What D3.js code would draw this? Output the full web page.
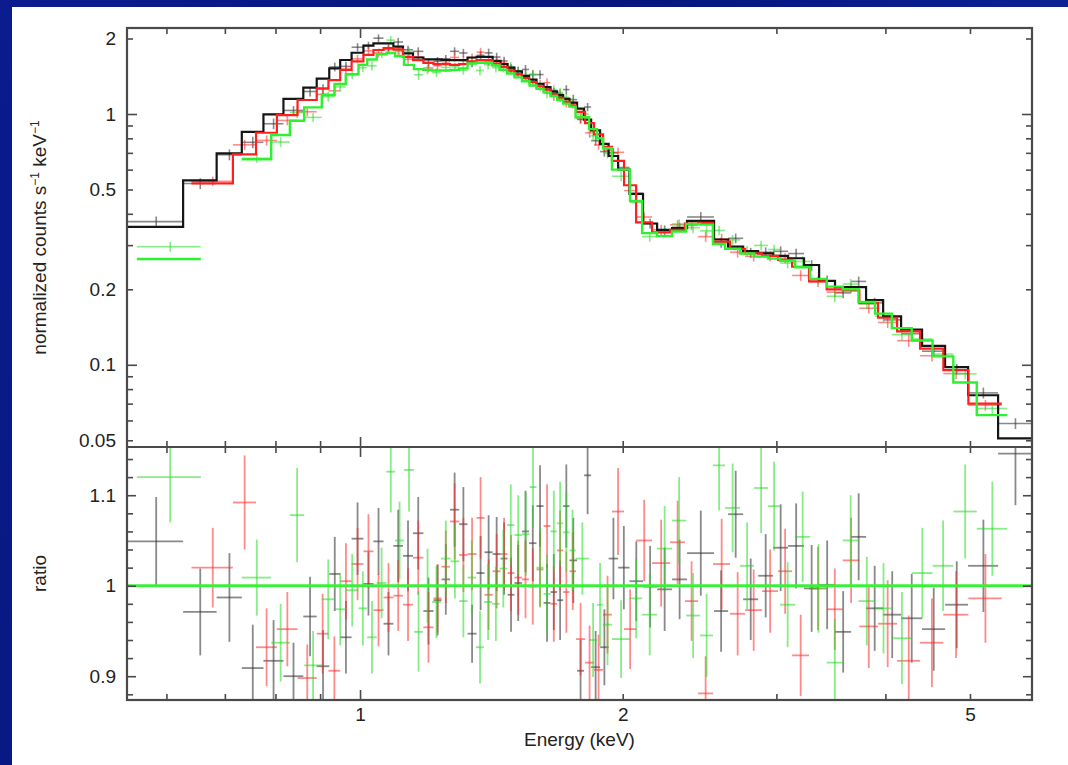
<!DOCTYPE html>
<html><head><meta charset="utf-8">
<script src="https://cdn.jsdelivr.net/npm/d3@7"></script>
<style>html,body{margin:0;padding:0;background:#fff;}svg{display:block}</style>
</head><body>
<svg id="c" width="1068" height="765"></svg>
<script>
// ---------------- DATA (energies in keV) ----------------
const blackEdges = [0.541,0.627,0.685,0.732,0.775,0.817,0.861,0.892,0.922,0.949,0.978,1.009,1.036,1.064,1.092,1.120,1.150,1.182,1.214,1.240,1.268,1.299,1.328,1.360,1.389,1.419,1.449,1.476,1.503,1.533,1.562,1.593,1.623,1.653,1.682,1.709,1.738,1.773,1.806,1.840,1.884,1.927,1.976,2.036,2.110,2.190,2.278,2.370,2.545,2.641,2.748,2.859,2.974,3.094,3.227,3.358,3.502,3.654,3.801,3.976,4.169,4.406,4.682,4.975,5.385,5.890];
const blackModel = [0.355,0.544,0.697,0.848,0.997,1.148,1.273,1.383,1.521,1.642,1.755,1.872,1.913,1.913,1.855,1.745,1.68,1.65,1.65,1.645,1.64,1.64,1.68,1.69,1.69,1.63,1.58,1.53,1.48,1.42,1.37,1.32,1.28,1.23,1.19,1.15,1.11,1.05,0.95,0.86,0.76,0.68,0.60,0.48,0.366,0.345,0.351,0.375,0.316,0.296,0.284,0.278,0.272,0.266,0.250,0.216,0.204,0.204,0.181,0.156,0.138,0.119,0.098,0.0756,0.0509];
const blackRatio = [1.049,0.971,0.987,0.909,0.917,0.900,0.966,0.911,1.013,0.943,1.052,1.002,1.049,0.958,1.044,1.033,1.058,0.972,0.984,1.007,1.084,1.068,0.947,1.014,1.037,1.035,1.030,0.990,1.003,1.060,1.047,1.088,0.981,0.993,0.984,1.088,1.028,0.906,1.122,0.910,0.932,1.030,1.020,1.005,0.999,0.996,1.007,1.036,0.972,1.079,0.985,1.011,1.042,1.044,0.997,1.001,0.949,1.054,0.975,0.968,0.964,0.952,0.979,1.022,1.146];
const blackErr = [0.049,0.048,0.049,0.048,0.045,0.037,0.044,0.040,0.041,0.040,0.040,0.035,0.037,0.035,0.040,0.039,0.040,0.037,0.039,0.039,0.041,0.041,0.032,0.041,0.041,0.041,0.040,0.041,0.042,0.045,0.042,0.045,0.043,0.042,0.044,0.046,0.047,0.034,0.043,0.040,0.042,0.045,0.046,0.044,0.045,0.046,0.044,0.047,0.045,0.048,0.045,0.046,0.048,0.047,0.048,0.049,0.045,0.048,0.047,0.048,0.049,0.046,0.048,0.051,0.057];

const redEdges = [0.641,0.715,0.760,0.803,0.848,0.892,0.920,0.949,0.978,1.009,1.036,1.064,1.092,1.120,1.150,1.182,1.214,1.240,1.268,1.299,1.328,1.360,1.389,1.419,1.449,1.476,1.503,1.533,1.562,1.593,1.623,1.653,1.682,1.709,1.738,1.768,1.811,1.854,1.899,1.944,2.007,2.072,2.161,2.266,2.357,2.440,2.538,2.655,2.762,2.889,3.013,3.127,3.270,3.426,3.574,3.734,3.923,4.125,4.383,4.661,4.979,5.437];
const redModel = [0.529,0.69,0.842,0.99,1.137,1.266,1.366,1.50,1.62,1.72,1.80,1.83,1.81,1.69,1.64,1.60,1.58,1.58,1.57,1.58,1.62,1.64,1.64,1.59,1.54,1.49,1.44,1.39,1.34,1.29,1.25,1.20,1.16,1.12,1.08,1.02,0.92,0.83,0.74,0.65,0.52,0.37,0.337,0.345,0.366,0.368,0.310,0.290,0.278,0.272,0.262,0.246,0.215,0.200,0.198,0.176,0.154,0.136,0.116,0.0953,0.070];
const redRatio = [1.020,1.092,0.932,0.952,0.898,0.947,0.906,1.005,1.024,1.038,0.973,0.987,0.989,0.979,1.031,0.954,0.986,1.021,1.071,1.034,1.035,1.075,0.990,1.016,1.035,1.014,1.009,1.007,0.999,1.018,1.066,0.980,1.039,0.993,1.016,0.941,0.915,0.907,0.968,1.082,0.952,1.050,1.025,1.048,0.983,0.881,1.024,0.969,0.973,0.994,1.016,0.923,0.997,0.974,1.028,0.955,0.958,0.917,0.937,0.968,0.986];
const redErr = [0.044,0.052,0.043,0.041,0.037,0.044,0.038,0.042,0.040,0.041,0.040,0.038,0.039,0.040,0.041,0.039,0.038,0.040,0.042,0.041,0.040,0.045,0.039,0.041,0.040,0.042,0.041,0.043,0.042,0.041,0.046,0.042,0.044,0.045,0.043,0.040,0.041,0.039,0.043,0.048,0.044,0.045,0.048,0.046,0.044,0.041,0.050,0.046,0.045,0.046,0.047,0.045,0.046,0.045,0.047,0.046,0.048,0.050,0.049,0.048,0.049];

const greenEdges = [0.555,0.657,0.732,0.791,0.831,0.863,0.904,0.935,0.963,0.996,1.019,1.045,1.072,1.097,1.123,1.153,1.181,1.209,1.238,1.270,1.299,1.328,1.358,1.387,1.417,1.445,1.474,1.503,1.533,1.564,1.593,1.623,1.653,1.682,1.709,1.738,1.766,1.830,1.869,1.899,1.944,2.039,2.105,2.190,2.278,2.364,2.453,2.538,2.620,2.726,2.828,2.935,3.029,3.152,3.279,3.426,3.574,3.725,3.892,4.068,4.288,4.530,4.785,5.090,5.518];
const greenModel = [0.264,null,0.66,0.825,0.94,1.063,1.19,1.317,1.44,1.57,1.65,1.73,1.75,1.70,1.57,1.51,1.50,1.49,1.49,1.50,1.52,1.59,1.60,1.60,1.56,1.50,1.45,1.40,1.35,1.30,1.26,1.22,1.18,1.14,1.10,1.07,0.97,0.87,0.80,0.73,0.60,0.45,0.335,0.326,0.34,0.364,0.362,0.303,0.29,0.278,0.27,0.265,0.26,0.245,0.22,0.205,0.20,0.178,0.16,0.14,0.125,0.108,0.085,0.063];
const greenRatio = [1.120,null,1.009,0.937,1.078,0.912,0.985,0.974,0.995,0.975,0.943,1.003,1.126,1.050,1.128,0.949,1.000,0.982,1.030,1.027,0.983,1.009,0.932,0.982,0.980,1.019,1.067,1.056,1.057,1.109,1.020,0.991,1.060,1.069,1.059,1.039,1.030,0.940,0.979,0.957,0.941,0.986,0.968,1.041,1.072,0.967,0.945,1.133,1.086,1.022,1.108,1.088,0.979,1.054,0.997,0.915,1.050,0.983,0.975,0.942,1.014,1.022,1.082,1.063];
const greenErr = [0.050,null,0.042,0.043,0.052,0.038,0.044,0.040,0.040,0.041,0.040,0.039,0.045,0.043,0.046,0.044,0.041,0.040,0.042,0.041,0.040,0.041,0.040,0.042,0.041,0.043,0.045,0.044,0.046,0.045,0.044,0.043,0.045,0.046,0.044,0.045,0.040,0.041,0.046,0.045,0.043,0.044,0.045,0.047,0.048,0.047,0.046,0.050,0.049,0.048,0.050,0.049,0.047,0.050,0.049,0.048,0.050,0.049,0.050,0.051,0.050,0.050,0.052,0.052];

const xMinorTicks = [0.6,0.7,0.8,0.9,2,3,4,5];
const xMajorTicks = [1];
const xLabelTicks = [1,2,5];
const xLabelText = ["1","2","5"];
const yTopMinorTicks = [0.05,0.06,0.07,0.08,0.09,0.2,0.3,0.4,0.5,0.6,0.7,0.8,0.9,2];
const yTopMajorTicks = [0.1,1];
const yTopLabelTicks = [0.05,0.1,0.2,0.5,1,2];
const yTopLabelText = ["0.05","0.1","0.2","0.5","1","2"];
const yRatMinorTicks = [0.88,0.92,0.94,0.96,0.98,1.02,1.04,1.06,1.08,1.12,1.14];
const yRatMajorTicks = [0.9,1.0,1.1];
const yRatLabelText = ["0.9","1","1.1"];

// ---------------- LAYOUT ----------------
const W = 1068, H = 765;
const L = 127, R = 1032, T = 28, MID = 447, B = 700;
const FONT = "'Liberation Sans', Arial, Helvetica, sans-serif";
const svg = d3.select('#c');

const x = d3.scaleLog().domain([0.5407, 5.889]).range([L, R]);
const yTop = d3.scaleLog().domain([0.04701, 2.2026]).range([MID, T]);
const yRat = d3.scaleLinear().domain([0.8737, 1.1533]).range([B, MID]);

// background
const defs = svg.append('defs');
const lg = defs.append('linearGradient').attr('id','bg').attr('x1','0').attr('y1','0').attr('x2','1').attr('y2','0.3');
lg.append('stop').attr('offset','0').attr('stop-color','#0a1c8e');
lg.append('stop').attr('offset','0.5').attr('stop-color','#06157c');
lg.append('stop').attr('offset','1').attr('stop-color','#0c2296');
svg.append('rect').attr('width',W).attr('height',H).attr('fill','url(#bg)');
svg.append('rect').attr('x',12).attr('y',7).attr('width',W-12).attr('height',H-7).attr('fill','#fff');

defs.append('clipPath').attr('id','clipTop').append('rect').attr('x',L).attr('y',T).attr('width',R-L).attr('height',MID-T);
defs.append('clipPath').attr('id','clipBot').append('rect').attr('x',L).attr('y',MID).attr('width',R-L).attr('height',B-MID);

function makeSeries(edges, model, ratio, err) {
  return model.map((m, i) => ({lo: edges[i], hi: edges[i+1], m, r: ratio[i], e: err[i]}));
}
const series = [
  {name:'black', bins: makeSeries(blackEdges, blackModel, blackRatio, blackErr), cross:'#3a3a3a', crossOp:0.6, line:'#151515', lw:2.2},
  {name:'red', bins: makeSeries(redEdges, redModel, redRatio, redErr), cross:'#ff2a2a', crossOp:0.55, line:'#ff1f1f', lw:2.2},
  {name:'green', bins: makeSeries(greenEdges, greenModel, greenRatio, greenErr), cross:'#22dd22', crossOp:0.55, line:'#2ef02e', lw:2.4}
];

const gTop = svg.append('g').attr('clip-path','url(#clipTop)');
const gBot = svg.append('g').attr('clip-path','url(#clipBot)');

// data crosses (top) and ratio crosses (bottom)
series.forEach(s => {
  const valid = s.bins.filter(d => d.m != null && d.r != null);
  const ct = gTop.append('g').attr('stroke', s.cross).attr('stroke-opacity', s.crossOp).attr('stroke-width', 1.6);
  ct.selectAll('line.h').data(valid).join('line')
    .attr('x1', d => x(d.lo)).attr('x2', d => x(d.hi))
    .attr('y1', d => yTop(d.m * d.r)).attr('y2', d => yTop(d.m * d.r));
  ct.selectAll('line.v').data(valid).join('line')
    .attr('x1', d => x((d.lo + d.hi) / 2)).attr('x2', d => x((d.lo + d.hi) / 2))
    .attr('y1', d => yTop(d.m * (d.r - d.e))).attr('y2', d => yTop(d.m * (d.r + d.e)));
  const cb = gBot.append('g').attr('stroke', s.cross).attr('stroke-opacity', s.crossOp).attr('stroke-width', 1.8);
  cb.selectAll('line.h').data(valid).join('line')
    .attr('x1', d => x(d.lo)).attr('x2', d => x(d.hi))
    .attr('y1', d => yRat(d.r)).attr('y2', d => yRat(d.r));
  cb.selectAll('line.v').data(valid).join('line')
    .attr('x1', d => x((d.lo + d.hi) / 2)).attr('x2', d => x((d.lo + d.hi) / 2))
    .attr('y1', d => yRat(d.r - d.e)).attr('y2', d => yRat(d.r + d.e));
});

// model step lines
series.forEach(s => {
  const pts = [];
  s.bins.forEach(d => { pts.push({e: d.lo, m: d.m}); pts.push({e: d.hi, m: d.m}); });
  const line = d3.line().defined(p => p.m != null).x(p => x(p.e)).y(p => yTop(p.m));
  gTop.append('path').attr('d', line(pts)).attr('fill','none').attr('stroke', s.line).attr('stroke-width', s.lw).attr('stroke-linejoin','miter');
});

// ratio = 1 line
gBot.append('line').attr('x1', L).attr('x2', R).attr('y1', yRat(1)).attr('y2', yRat(1))
  .attr('stroke', '#3cef3c').attr('stroke-width', 3);

// ---------------- AXES ----------------
const TICK = '#4a4a4a';
function styleAxis(g) { g.select('.domain').remove(); g.selectAll('.tick line').attr('stroke', TICK).attr('stroke-width', 1.6); }
function xTicks(y, inwardDown, vals, len) {
  const ax = (inwardDown ? d3.axisTop(x) : d3.axisBottom(x)).tickValues(vals).tickSize(-len).tickFormat('');
  svg.append('g').attr('transform', `translate(0,${y})`).call(ax).call(styleAxis);
}
[[T, true],[MID, false],[MID, true],[B, false]].forEach(([y, dn]) => {
  xTicks(y, dn, xMinorTicks, 6);
  xTicks(y, dn, xMajorTicks, 10);
});
function yTicks(scale, xpos, left, vals, len) {
  const ax = (left ? d3.axisLeft(scale) : d3.axisRight(scale)).tickValues(vals).tickSize(-len).tickFormat('');
  svg.append('g').attr('transform', `translate(${xpos},0)`).call(ax).call(styleAxis);
}
[[L, true],[R, false]].forEach(([xp, lf]) => {
  yTicks(yTop, xp, lf, yTopMinorTicks, 6);
  yTicks(yTop, xp, lf, yTopMajorTicks, 10);
  yTicks(yRat, xp, lf, yRatMinorTicks, 6);
  yTicks(yRat, xp, lf, yRatMajorTicks, 9);
});

// frame
svg.append('rect').attr('x', L).attr('y', T).attr('width', R - L).attr('height', B - T)
  .attr('fill','none').attr('stroke','#4a4a4a').attr('stroke-width', 2.2);
svg.append('line').attr('x1', L).attr('x2', R).attr('y1', MID).attr('y2', MID)
  .attr('stroke','#4a4a4a').attr('stroke-width', 2.2);

// tick labels
function styleLabels(g) {
  g.select('.domain').remove();
  g.selectAll('.tick line').remove();
  g.selectAll('text').attr('font-family', FONT).attr('font-size', 19).attr('fill', '#222');
}
svg.append('g').attr('transform', `translate(0,${B})`)
  .call(d3.axisBottom(x).tickValues(xLabelTicks).tickFormat((d, i) => xLabelText[i]).tickSize(0).tickPadding(8))
  .call(styleLabels);
svg.append('g').attr('transform', `translate(${L},0)`)
  .call(d3.axisLeft(yTop).tickValues(yTopLabelTicks).tickFormat((d, i) => yTopLabelText[i]).tickSize(0).tickPadding(11))
  .call(styleLabels);
svg.append('g').attr('transform', `translate(${L},0)`)
  .call(d3.axisLeft(yRat).tickValues(yRatMajorTicks).tickFormat((d, i) => yRatLabelText[i]).tickSize(0).tickPadding(11))
  .call(styleLabels);

// axis titles
svg.append('text').attr('x', (L + R) / 2).attr('y', 746).attr('text-anchor','middle')
  .attr('font-family', FONT).attr('font-size', 19).attr('fill','#222').text('Energy (keV)');
const yt = svg.append('text').attr('transform', `translate(46,${(T + MID) / 2}) rotate(-90)`).attr('text-anchor','middle')
  .attr('font-family', FONT).attr('font-size', 19).attr('fill','#222');
yt.append('tspan').text('normalized counts s');
yt.append('tspan').attr('dy', -7).attr('font-size', 12).text('−1');
yt.append('tspan').attr('dy', 7).text(' keV');
yt.append('tspan').attr('dy', -7).attr('font-size', 12).text('−1');
svg.append('text').attr('transform', `translate(46,${(MID + B) / 2}) rotate(-90)`).attr('text-anchor','middle')
  .attr('font-family', FONT).attr('font-size', 19).attr('fill','#222').text('ratio');
</script>
</body></html>
